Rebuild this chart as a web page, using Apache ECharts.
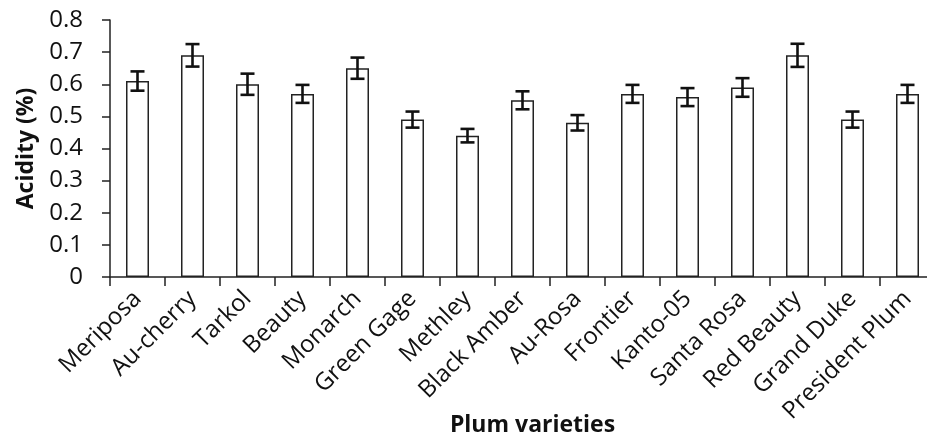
<!DOCTYPE html>
<html>
<head>
<meta charset="utf-8">
<script src="https://cdn.jsdelivr.net/npm/echarts@6/dist/echarts.min.js"></script>
<style>html,body{margin:0;padding:0;background:#fff}#c{width:927px;height:434px}</style>
</head>
<body>
<div id="c"></div>
<script>
const categories = ['Meriposa','Au-cherry','Tarkol','Beauty','Monarch','Green Gage','Methley','Black Amber','Au-Rosa','Frontier','Kanto-05','Santa Rosa','Red Beauty','Grand Duke','President Plum'];
const acidity = [0.61,0.69,0.60,0.57,0.65,0.49,0.44,0.55,0.48,0.57,0.56,0.59,0.69,0.49,0.57];
const errors = [0.03,0.035,0.033,0.028,0.033,0.025,0.021,0.028,0.024,0.028,0.028,0.029,0.036,0.025,0.028];
const yTicks = [0,0.1,0.2,0.3,0.4,0.5,0.6,0.7,0.8];

const errData = acidity.map((v,i)=>[i, v, v+errors[i], v-errors[i]]);
const FONT = '"Open Sans", sans-serif';

const chart = echarts.init(document.getElementById('c'), null, {renderer:'canvas'});
chart.setOption({
  animation:false,
  backgroundColor:'#fff',
  grid:{left:110, top:20, width:825, height:257, containLabel:false, outerBoundsMode:'none'},
  xAxis:{
    type:'category', data:categories,
    name:'Plum varieties', nameLocation:'middle', nameGap:137, nameMoveOverlap:false,
    nameTextStyle:{fontFamily:FONT, fontWeight:'bold', fontSize:23, color:'#111', padding:[0,0,0,20]},
    axisLine:{lineStyle:{color:'#222', width:1.5}},
    axisTick:{show:true, length:9, lineStyle:{color:'#222', width:1.5}, alignWithLabel:false},
    axisLabel:{rotate:45, interval:0, fontFamily:FONT, fontSize:24, color:'#111', margin:18}
  },
  yAxis:{
    type:'value', min:yTicks[0], max:yTicks[yTicks.length-1], interval:0.1,
    name:'Acidity (%)', nameLocation:'middle', nameGap:72, nameMoveOverlap:false,
    nameTextStyle:{fontFamily:FONT, fontWeight:'bold', fontSize:23, color:'#111'},
    axisLine:{show:true, lineStyle:{color:'#222', width:1.5}},
    axisTick:{show:true, length:8, lineStyle:{color:'#222', width:1.5}},
    splitLine:{show:false},
    axisLabel:{fontFamily:FONT, fontSize:24, color:'#111', margin:27,
      formatter:v=>{const r=Math.round(v*10)/10; return r===0?'0':String(r);}}
  },
  series:[
    {type:'bar', data:acidity, barWidth:23,
     itemStyle:{color:'#fff', borderColor:'#222', borderWidth:1.5}},
    {type:'custom', data:errData, z:5,
     renderItem:function(params, api){
       const x = api.value(0);
       const top = api.coord([x, api.value(2)]);
       const bot = api.coord([x, api.value(3)]);
       const h = 7;
       const st = {stroke:'#111', lineWidth:2.6};
       return {type:'group', children:[
         {type:'line', shape:{x1:top[0], y1:top[1], x2:bot[0], y2:bot[1]}, style:st},
         {type:'line', shape:{x1:top[0]-h, y1:top[1], x2:top[0]+h, y2:top[1]}, style:st},
         {type:'line', shape:{x1:bot[0]-h, y1:bot[1], x2:bot[0]+h, y2:bot[1]}, style:st}
       ]};
     }}
  ]
});
</script>
</body>
</html>
